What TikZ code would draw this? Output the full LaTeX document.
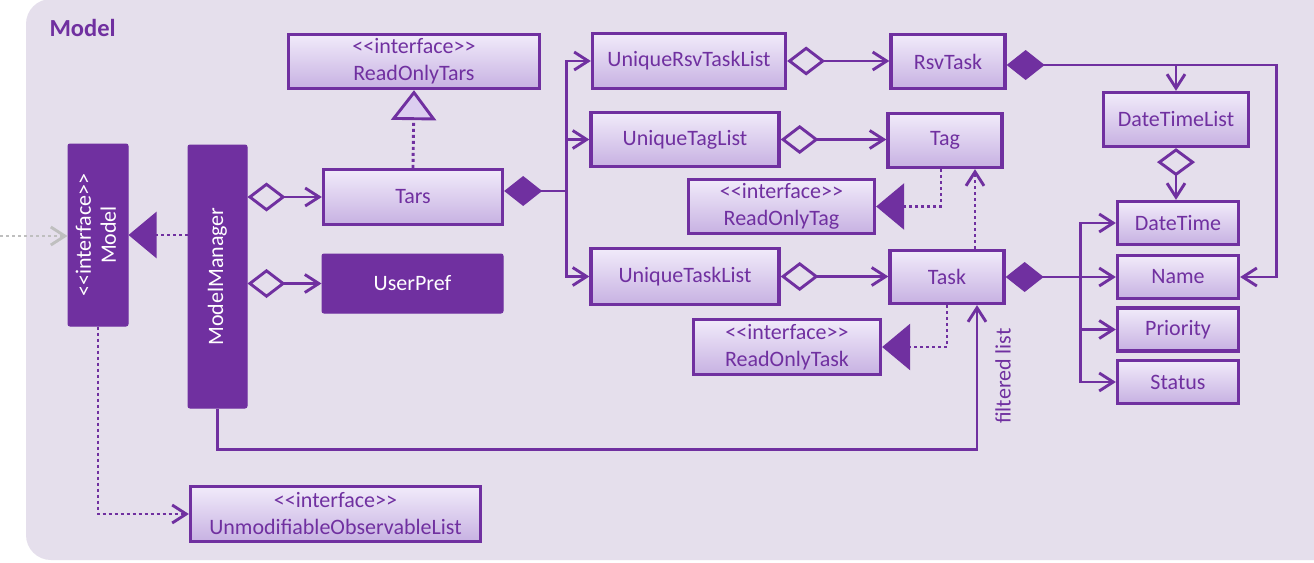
\documentclass[tikz,border=0pt]{standalone}
\usepackage{fontspec}
\newfontfamily\cf{Carlito}
\usetikzlibrary{arrows.meta}
\definecolor{dp}{HTML}{7030A0}
\definecolor{bg}{HTML}{E5DFEC}
\definecolor{btop}{HTML}{F1EBFA}
\definecolor{bbot}{HTML}{C7B1E2}
\definecolor{bmid}{HTML}{DCCEF0}
\definecolor{gr}{HTML}{BFBFBF}
\tikzset{
  txt/.style={font=\cf\fontsize{22}{27}\selectfont},
  box/.style={txt, draw=dp, line width=3.3pt, top color=btop, bottom color=bbot, text=dp, align=center, inner sep=0pt},
  dbox/.style={txt, draw=dp, fill=dp, line width=1pt, rounded corners=2pt, text=white, align=center, inner sep=0pt},
  conn/.style={draw=dp, line width=2.9pt},
  dotl/.style={conn, dash pattern=on 3pt off 3pt},
  oarr/.tip={Straight Barb[length=14pt,width=18pt]},
  odia/.tip={Diamond[open,length=38pt,width=29pt]},
  vdia/.tip={Diamond[open,length=28pt,width=38pt]},
  fdia/.tip={Diamond[length=38pt,width=30pt]},
  ftri/.tip={Triangle[length=28pt,width=46pt]},
  otri/.tip={Triangle[open,fill=bmid,length=30pt,width=45pt]},
}
\begin{document}
\begin{tikzpicture}[x=1pt,y=-1pt]
\useasboundingbox (0,0) rectangle (1314,562);
\fill[white] (0,0) rectangle (1314,562);
\fill[bg, rounded corners=25pt] (26,-1) rectangle (1345,560);
\node[anchor=base west, text=dp, font=\cf\bfseries\fontsize{24.5}{28}\selectfont] (title) at (46,36) {Model};

% nodes
\node[dbox, minimum width=60pt, minimum height=182pt] (model) at (98,235)
  {\rotatebox{90}{\begin{tabular}{@{}c@{}}<<interface>>\\[-2pt]Model\end{tabular}}};
\node[dbox, minimum width=59pt, minimum height=263pt] (mm) at (217.5,276.5)
  {\rotatebox{90}{ModelManager}};
\node[box, minimum width=251pt, minimum height=54pt] (rot) at (414,61.5) {<<interface>>\\ReadOnlyTars};
\node[box, minimum width=179pt, minimum height=55pt] (tars) at (413,197) {Tars};
\node[dbox, minimum width=181pt, minimum height=59pt] (up) at (412.5,283.5) {UserPref};
\node[box, minimum width=193pt, minimum height=55pt] (urtl) at (689,61) {UniqueRsvTaskList};
\node[box, minimum width=188pt, minimum height=54pt] (utl) at (685,139.5) {UniqueTagList};
\node[box, minimum width=186pt, minimum height=54pt] (rotag) at (781.5,206.5) {<<interface>>\\ReadOnlyTag};
\node[box, minimum width=188pt, minimum height=56pt] (utkl) at (685,276.5) {UniqueTaskList};
\node[box, minimum width=114pt, minimum height=54pt] (rsv) at (948,61.5) {RsvTask};
\node[box, minimum width=114pt, minimum height=54pt] (tag) at (945,140.5) {Tag};
\node[box, minimum width=114pt, minimum height=53pt] (task) at (947,277) {Task};
\node[box, minimum width=187pt, minimum height=55pt] (rotask) at (787,347) {<<interface>>\\ReadOnlyTask};
\node[box, minimum width=145pt, minimum height=54pt] (dtl) at (1176,119.5) {DateTimeList};
\node[box, minimum width=121pt, minimum height=43pt] (dt) at (1178,223) {DateTime};
\node[box, minimum width=121pt, minimum height=43pt] (name) at (1178,277) {Name};
\node[box, minimum width=121pt, minimum height=43pt] (prio) at (1178,329.5) {Priority};
\node[box, minimum width=121pt, minimum height=43pt] (stat) at (1178,382) {Status};
\node[box, minimum width=290pt, minimum height=55pt] (uol) at (335.5,514) {<<interface>>\\UnmodifiableObservableList};
\node[rotate=90, text=dp, txt] (fl) at (1003,376) {filtered list};

% connectors
\coordinate (ext) at (0,236);
\draw[gr, line width=2.9pt, dash pattern=on 3pt off 3pt, -oarr] (ext) -- (ext -| model.west);
\draw[dotl, -ftri] (mm.west |- model.east) -- (model.east);
\draw[dotl, -oarr] (model.south) |- (uol.west);
\draw[conn, -oarr] (mm.south) -- ++(0,41) -| ([xshift=30pt]task.south);
\draw[conn, odia-oarr] (mm.east |- tars.west) -- (tars.west);
\draw[conn, odia-oarr] (mm.east |- up.west) -- (up.west);
\draw[dotl, -otri] (tars.north) -- (rot.south);
\draw[conn, fdia-] ([yshift=6pt]tars.east) -- ++(62,0) coordinate (j1);
\draw[conn, -oarr] (j1) |- (urtl.west);
\draw[conn, -oarr] (j1) |- (utl.west);
\draw[conn, -oarr] (j1) |- (utkl.west);
\draw[conn, odia-oarr] (urtl.east) -- (rsv.west |- urtl.east);
\draw[conn, odia-oarr] (utl.east) -- (tag.west |- utl.east);
\draw[conn, odia-oarr] (utkl.east) -- (task.west |- utkl.east);
\coordinate (rs) at ([yshift=-3.5pt]rsv.east);
\draw[conn, fdia-oarr] (rs) -- ++(270,0) |- (name.east);
\draw[conn, -oarr] (rs -| dtl.north) -- (dtl.north);
\draw[conn, vdia-oarr] (dtl.south) -- (dtl.south |- dt.north);
\draw[conn, fdia-oarr] (task.east) -- (name.west);
\coordinate (j2) at ([xshift=75pt]task.east);
\draw[conn, -oarr] (j2) |- (dt.west);
\draw[conn, -oarr] (j2) |- (prio.west);
\draw[conn, -oarr] (j2) |- (stat.west);
\draw[dotl, -ftri] ([xshift=-4pt]tag.south) |- (rotag.east);
\draw[dotl, -oarr] ([xshift=28pt]task.north) -- ([xshift=30pt]tag.south);
\draw[dotl, -ftri] (task.south) |- (rotask.east);
\end{tikzpicture}
\end{document}
